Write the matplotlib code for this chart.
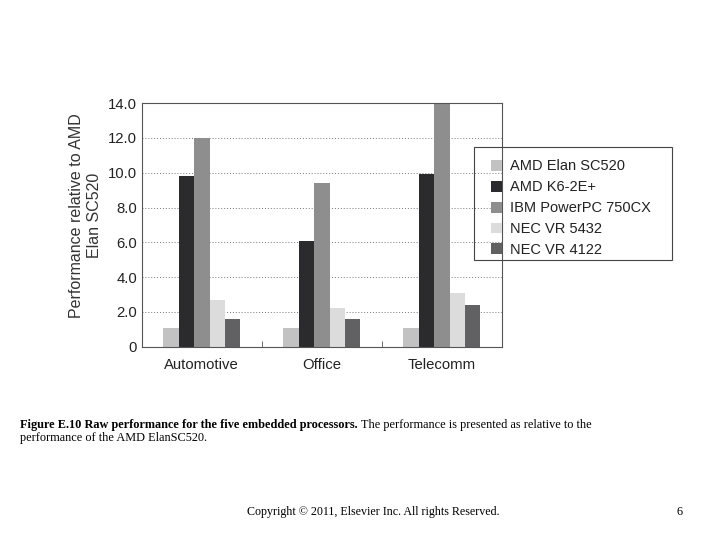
import matplotlib
matplotlib.use("Agg")
import matplotlib.pyplot as plt
from matplotlib.patches import Rectangle
import numpy as np

kategorie = ["Automotive", "Office", "Telecomm"]
procesory = ["AMD Elan SC520", "AMD K6-2E+", "IBM PowerPC 750CX", "NEC VR 5432", "NEC VR 4122"]
elan = [1.1, 1.1, 1.1]
k6 = [9.8, 6.1, 9.9]
ibm = [12.0, 9.4, 14.5]
vr5432 = [2.7, 2.2, 3.1]
vr4122 = [1.6, 1.6, 2.4]
kolory = ["#c2c2c2", "#2b2b2d", "#8e8e8e", "#dcdcdc", "#616163"]

plt.rcParams['font.family'] = ['Liberation Sans', 'DejaVu Sans']

fig = plt.figure(figsize=(7.2, 5.4), dpi=100)
ax = fig.add_axes([0.197, 0.358, 0.5, 0.451])

x = np.arange(len(kategorie))
szer = 0.128
serie = [elan, k6, ibm, vr5432, vr4122]
for i, (wartosci, nazwa) in enumerate(zip(serie, procesory)):
    ax.bar(x + (i - 2) * szer, wartosci, szer, color=kolory[i], label=nazwa, zorder=2)

ax.set_xlim(-0.5, 2.5)
ax.set_ylim(0, 14)
ax.set_yticks(np.arange(0, 15, 2))
ax.set_yticklabels(["0"] + ["%.1f" % v for v in np.arange(2, 15, 2)])
ax.set_xticks(x)
ax.set_xticklabels(kategorie)
ax.tick_params(axis='x', length=0, pad=8, labelsize=10.7, colors="#222222")
ax.tick_params(axis='y', length=0, pad=3.5, labelsize=10.7, colors="#222222")
ax.set_xticks([0.5, 1.5], minor=True)
ax.tick_params(axis='x', which='minor', direction='in', length=4, color="#555555")
for y in np.arange(2, 14, 2):
    ax.axhline(y, color="#777777", linestyle=(0, (1, 2)), linewidth=0.7, zorder=1)
for s in ax.spines.values():
    s.set_color("#555555")
    s.set_linewidth(0.8)
ax.set_ylabel("Performance relative to AMD\nElan SC520", fontsize=11.5, color="#333333",
              labelpad=4, linespacing=1.25)
ax.yaxis.label.set_y(0.538)

# legenda bez ramki + ramka rysowana osobno
leg = fig.legend(loc="upper left", bbox_to_anchor=(491 / 720, 1 - 159.5 / 540), frameon=False,
                 fontsize=10.5, handlelength=0.78, handleheight=0.78,
                 labelspacing=0.47, borderpad=0, handletextpad=0.55, borderaxespad=0)
for t in leg.get_texts():
    t.set_color("#222222")
fig.patches.append(Rectangle((473.5 / 720, 1 - 260 / 540), 198 / 720, 113 / 540,
                             transform=fig.transFigure, fill=False, edgecolor="#444444",
                             linewidth=0.8))

pogrubiony = fig.text(20 / 720, 1 - 425 / 540, "Figure E.10 Raw performance for the five embedded processors.",
                      fontsize=8.8, fontweight="bold", family="Liberation Serif", va="center")
fig.canvas.draw()
bb = pogrubiony.get_window_extent()
fig.text(bb.x1 / 720 + 0.004, 1 - 425 / 540, "The performance is presented as relative to the",
         fontsize=8.8, family="Liberation Serif", va="center")
fig.text(20 / 720, 1 - 438 / 540, "performance of the AMD ElanSC520.",
         fontsize=8.8, family="Liberation Serif", va="center")
fig.text(373 / 720, 1 - 512 / 540, "Copyright \u00a9 2011, Elsevier Inc. All rights Reserved.",
         fontsize=8.65, family="Liberation Serif", ha="center", va="center")
fig.text(680 / 720, 1 - 512 / 540, "6", fontsize=8.8, family="Liberation Serif", ha="center", va="center")

fig.savefig("out.png", dpi=100)
